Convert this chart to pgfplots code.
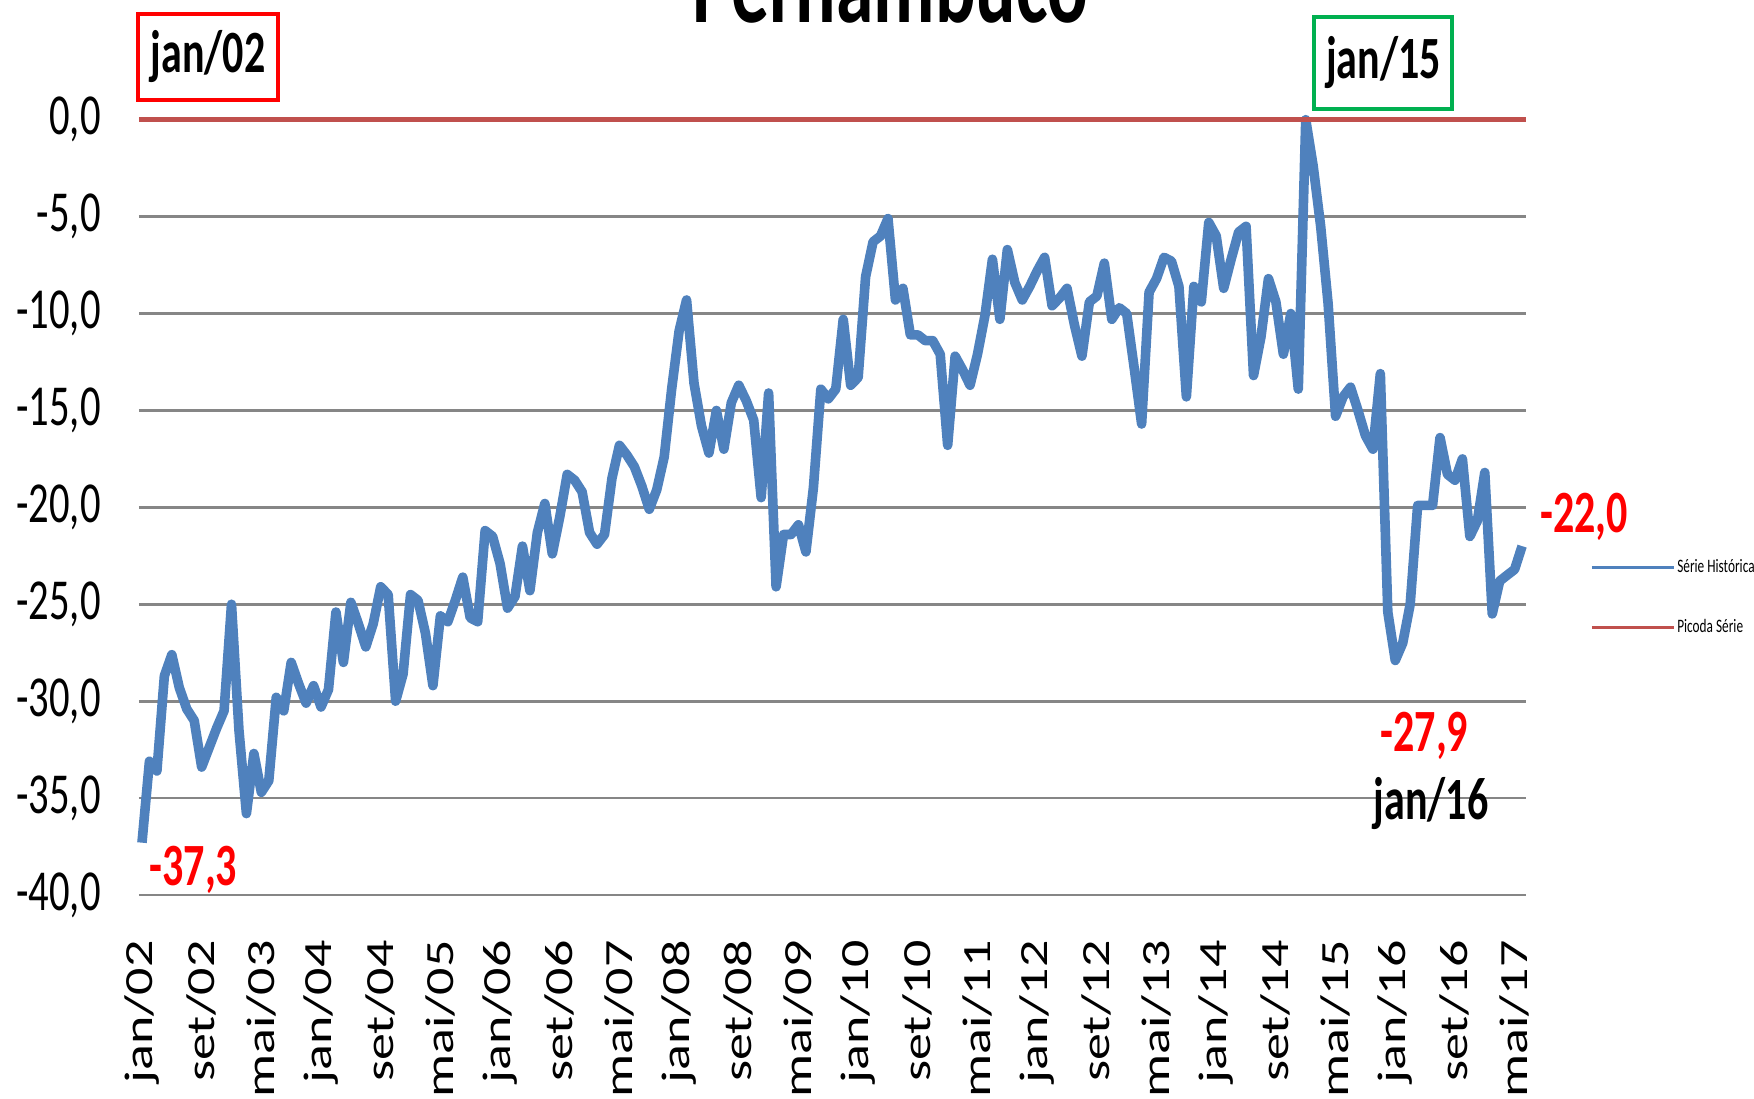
\documentclass[border=0pt]{standalone}
\usepackage{fontspec}
\setmainfont{Carlito}[FakeStretch=0.7]
\newfontfamily\xfont{Carlito}[FakeStretch=1.35]
\usepackage{pgfplots}
\pgfplotsset{compat=1.18}
\usepackage{pgfplotstable}

\definecolor{serie}{RGB}{79,129,189}
\definecolor{pico}{RGB}{192,80,77}
\definecolor{gridc}{RGB}{134,134,134}
\definecolor{boxgreen}{RGB}{0,176,80}
\definecolor{vermelho}{RGB}{255,0,0}

% indice do mes (0 = jan/02) e valor
\pgfplotstableread{
i v
0 -37.3
1 -33.1
2 -33.6
3 -28.7
4 -27.6
5 -29.3
6 -30.4
7 -31.0
8 -33.4
9 -32.4
10 -31.4
11 -30.5
12 -25.0
13 -31.5
14 -35.8
15 -32.7
16 -34.7
17 -34.1
18 -29.8
19 -30.5
20 -28.0
21 -29.1
22 -30.1
23 -29.2
24 -30.3
25 -29.4
26 -25.4
27 -28.0
28 -24.9
29 -26.0
30 -27.2
31 -26.0
32 -24.1
33 -24.5
34 -30.0
35 -28.6
36 -24.5
37 -24.8
38 -26.5
39 -29.2
40 -25.6
41 -25.9
42 -24.8
43 -23.6
44 -25.7
45 -25.9
46 -21.2
47 -21.5
48 -22.9
49 -25.2
50 -24.6
51 -22.0
52 -24.3
53 -21.3
54 -19.8
55 -22.4
56 -20.5
57 -18.3
58 -18.6
59 -19.2
60 -21.3
61 -21.9
62 -21.4
63 -18.5
64 -16.8
65 -17.3
66 -17.9
67 -18.9
68 -20.1
69 -19.1
70 -17.4
71 -13.9
72 -10.9
73 -9.3
74 -13.6
75 -15.8
76 -17.2
77 -15.0
78 -17.0
79 -14.6
80 -13.7
81 -14.5
82 -15.5
83 -19.5
84 -14.1
85 -24.1
86 -21.4
87 -21.4
88 -20.9
89 -22.3
90 -19.0
91 -13.9
92 -14.4
93 -13.9
94 -10.3
95 -13.7
96 -13.3
97 -8.1
98 -6.3
99 -6.0
100 -5.1
101 -9.3
102 -8.7
103 -11.1
104 -11.1
105 -11.4
106 -11.4
107 -12.1
108 -16.8
109 -12.2
110 -12.9
111 -13.7
112 -12.1
113 -10.1
114 -7.2
115 -10.3
116 -6.7
117 -8.4
118 -9.3
119 -8.6
120 -7.8
121 -7.1
122 -9.6
123 -9.2
124 -8.7
125 -10.6
126 -12.2
127 -9.4
128 -9.1
129 -7.4
130 -10.3
131 -9.7
132 -10.0
133 -12.8
134 -15.7
135 -8.9
136 -8.2
137 -7.1
138 -7.3
139 -8.6
140 -14.3
141 -8.6
142 -9.4
143 -5.3
144 -6.0
145 -8.7
146 -7.2
147 -5.8
148 -5.5
149 -13.2
150 -11.2
151 -8.2
152 -9.4
153 -12.1
154 -10.0
155 -13.9
156 0.0
157 -2.4
158 -5.5
159 -9.5
160 -15.3
161 -14.3
162 -13.8
163 -15.0
164 -16.3
165 -17.0
166 -13.1
167 -25.4
168 -27.9
169 -27.0
170 -25.0
171 -19.9
172 -19.9
173 -19.9
174 -16.4
175 -18.3
176 -18.6
177 -17.5
178 -21.5
179 -20.7
180 -18.2
181 -25.5
182 -23.8
183 -23.5
184 -23.2
185 -22.0
}\historica

\begin{document}
\begin{tikzpicture}
\begin{axis}[
    at={(0,0)}, anchor=south west,
    width=693.4pt, height=387.65pt, scale only axis,
    xmin=-0.4, xmax=185.5, ymin=-40, ymax=0,
    axis line style={draw=none},
    major tick length=0pt,
    ytick={-40,-35,...,0},
    yticklabels={{-40,0},{-35,0},{-30,0},{-25,0},{-20,0},{-15,0},{-10,0},{-5,0},{0,0}},
    yticklabel style={font=\fontsize{29}{29}\selectfont, anchor=east, inner sep=0pt},
    yticklabel shift=19pt,
    xtick={0,8,...,184},
    xticklabels={jan/02,set/02,mai/03,jan/04,set/04,mai/05,jan/06,set/06,mai/07,jan/08,set/08,mai/09,
                 jan/10,set/10,mai/11,jan/12,set/12,mai/13,jan/14,set/14,mai/15,jan/16,set/16,mai/17},
    xticklabel style={font=\xfont\fontsize{20}{20}\selectfont, rotate=90, anchor=east, inner sep=0pt},
    xticklabel shift=22.5pt,
    ymajorgrids, grid style={gridc, line width=1.4pt},
    clip=false,
    legend style={at={(1.0462,0.436)}, anchor=north west, draw=none, fill=none,
                  font=\fontsize{9.5}{10}\selectfont, row sep=20pt, inner sep=0pt,
                  nodes={inner sep=1pt}},
    legend cell align=left,
    legend image code/.code={\draw[#1, line width=1.5pt] (0pt,0pt) -- (41pt,0pt);},
]
\addplot[serie, line width=4.8pt, line join=round] table[x=i, y=v] {\historica};
\addplot[pico, line width=2.5pt] coordinates {(-0.4,0) (185.5,0)};
\legend{Série Histórica, Picoda Série}

\node[anchor=base, font=\fontsize{54}{54}\selectfont\bfseries] at (axis cs:100.3,5.04) {Pernambuco};
\node[draw=vermelho, line width=2pt, minimum width=69.6pt, minimum height=43pt, inner sep=0pt,
      font=\fontsize{30}{30}\selectfont\bfseries] at (axis cs:8.85,3.25) {jan/02};
\node[draw=boxgreen, line width=2pt, minimum width=69pt, minimum height=45.8pt, inner sep=0pt,
      font=\fontsize{30}{30}\selectfont\bfseries] at (axis cs:166.4,2.94) {jan/15};
\node[text=vermelho, font=\fontsize{30}{30}\selectfont\bfseries] at (axis cs:6.9,-38.7) {-37,3};
\node[text=vermelho, font=\fontsize{30}{30}\selectfont\bfseries] at (axis cs:193.3,-20.5) {-22,0};
\node[text=vermelho, font=\fontsize{30}{30}\selectfont\bfseries] at (axis cs:171.9,-31.8) {-27,9};
\node[font=\fontsize{30}{30}\selectfont\bfseries] at (axis cs:172.8,-35.3) {jan/16};
\end{axis}
\pgfresetboundingbox
\useasboundingbox (-69.5pt,-101.5pt) rectangle (807.5pt,447.5pt);
\end{tikzpicture}
\end{document}
